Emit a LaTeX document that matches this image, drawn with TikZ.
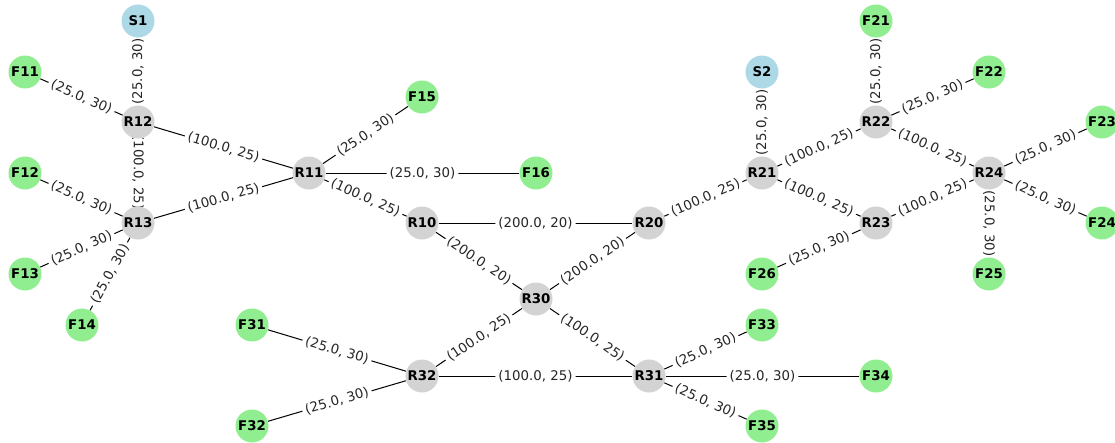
\documentclass[tikz,border=0pt]{standalone}
\usepackage{fontspec}
\setmainfont{DejaVu Sans}
\pgfdeclarelayer{edges}
\pgfsetlayers{edges,main}
\definecolor{lblue}{HTML}{ADD8E6}
\definecolor{lgreen}{HTML}{90EE90}
\definecolor{lgray}{HTML}{D3D3D3}
\tikzset{
  vx/.style={circle, minimum size=24.75pt, inner sep=0pt, font=\fontsize{10}{12}\selectfont\bfseries},
  src/.style={vx, fill=lblue},
  rt/.style={vx, fill=lgray},
  fl/.style={vx, fill=lgreen},
  edge/.style={draw=black, line width=0.75pt},
  lab/.style={fill=white, inner sep=2.4pt, rounded corners=2pt, font=\fontsize{10}{12}\selectfont, text=black!85},
}
\begin{document}
\begin{tikzpicture}[x=0.75pt, y=-0.75pt]
\useasboundingbox (0,0) rectangle (1115,443);
\clip (0,0) rectangle (1115,443);
% nodes
\node[src] (S1) at (138,21) {S1};
\node[fl] (F11) at (25,72) {F11};
\node[rt] (R12) at (138,122) {R12};
\node[fl] (F12) at (25,173) {F12};
\node[rt] (R13) at (138,223) {R13};
\node[fl] (F13) at (25,274) {F13};
\node[fl] (F14) at (82,325) {F14};
\node[rt] (R11) at (309,173) {R11};
\node[fl] (F15) at (422,97) {F15};
\node[fl] (F16) at (536,173) {F16};
\node[rt] (R10) at (422,223) {R10};
\node[rt] (R20) at (649,223) {R20};
\node[rt] (R30) at (536,299) {R30};
\node[fl] (F31) at (252,325) {F31};
\node[fl] (F32) at (252,426) {F32};
\node[rt] (R32) at (422,376) {R32};
\node[rt] (R31) at (649,376) {R31};
\node[fl] (F33) at (762,325) {F33};
\node[fl] (F34) at (876,376) {F34};
\node[fl] (F35) at (762,426) {F35};
\node[src] (S2) at (762,72) {S2};
\node[rt] (R21) at (762,173) {R21};
\node[fl] (F21) at (876,21) {F21};
\node[rt] (R22) at (876,122) {R22};
\node[fl] (F22) at (989,72) {F22};
\node[rt] (R23) at (876,223) {R23};
\node[rt] (R24) at (989,173) {R24};
\node[fl] (F23) at (1102,122) {F23};
\node[fl] (F24) at (1102,223) {F24};
\node[fl] (F25) at (989,274) {F25};
\node[fl] (F26) at (762,274) {F26};
\begin{pgfonlayer}{edges}
\draw[edge] (S1) -- node[lab, rotate=90] {(25.0, 30)} (R12);
\draw[edge] (F11) -- node[lab, sloped] {(25.0, 30)} (R12);
\draw[edge] (R12) -- node[lab, sloped] {(100.0, 25)} (R11);
\draw[edge] (R12) -- node[lab, rotate=-90] {(100.0, 25)} (R13);
\draw[edge] (F12) -- node[lab, sloped] {(25.0, 30)} (R13);
\draw[edge] (F13) -- node[lab, sloped] {(25.0, 30)} (R13);
\draw[edge] (F14) -- node[lab, sloped] {(25.0, 30)} (R13);
\draw[edge] (R13) -- node[lab, sloped] {(100.0, 25)} (R11);
\draw[edge] (R11) -- node[lab, sloped] {(25.0, 30)} (F15);
\draw[edge] (R11) -- node[lab, sloped] {(25.0, 30)} (F16);
\draw[edge] (R11) -- node[lab, sloped] {(100.0, 25)} (R10);
\draw[edge] (R10) -- node[lab, sloped] {(200.0, 20)} (R20);
\draw[edge] (R10) -- node[lab, sloped] {(200.0, 20)} (R30);
\draw[edge] (R30) -- node[lab, sloped] {(200.0, 20)} (R20);
\draw[edge] (R20) -- node[lab, sloped] {(100.0, 25)} (R21);
\draw[edge] (R21) -- node[lab, rotate=90] {(25.0, 30)} (S2);
\draw[edge] (R21) -- node[lab, sloped] {(100.0, 25)} (R22);
\draw[edge] (R21) -- node[lab, sloped] {(100.0, 25)} (R23);
\draw[edge] (R22) -- node[lab, rotate=90] {(25.0, 30)} (F21);
\draw[edge] (R22) -- node[lab, sloped] {(25.0, 30)} (F22);
\draw[edge] (R22) -- node[lab, sloped] {(100.0, 25)} (R24);
\draw[edge] (R23) -- node[lab, sloped] {(100.0, 25)} (R24);
\draw[edge] (F26) -- node[lab, sloped] {(25.0, 30)} (R23);
\draw[edge] (R24) -- node[lab, sloped] {(25.0, 30)} (F23);
\draw[edge] (R24) -- node[lab, sloped] {(25.0, 30)} (F24);
\draw[edge] (R24) -- node[lab, rotate=-90] {(25.0, 30)} (F25);
\draw[edge] (R32) -- node[lab, sloped] {(100.0, 25)} (R30);
\draw[edge] (R30) -- node[lab, sloped] {(100.0, 25)} (R31);
\draw[edge] (R32) -- node[lab, sloped] {(100.0, 25)} (R31);
\draw[edge] (F31) -- node[lab, sloped] {(25.0, 30)} (R32);
\draw[edge] (F32) -- node[lab, sloped] {(25.0, 30)} (R32);
\draw[edge] (R31) -- node[lab, sloped] {(25.0, 30)} (F33);
\draw[edge] (R31) -- node[lab, sloped] {(25.0, 30)} (F34);
\draw[edge] (R31) -- node[lab, sloped] {(25.0, 30)} (F35);
\end{pgfonlayer}
\end{tikzpicture}
\end{document}
